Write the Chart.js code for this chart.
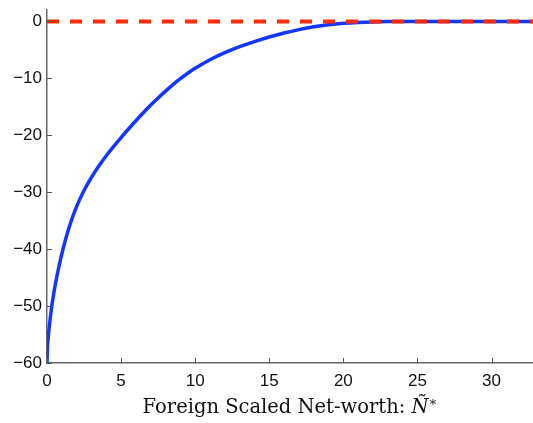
<!DOCTYPE html>
<html lang="en">
<head>
   <meta charset="UTF-8">
   <title>Foreign Scaled Net-worth</title>
   <script src="https://cdn.jsdelivr.net/npm/chart.js@4.4.0/dist/chart.umd.min.js"></script>
   <style>
      body { margin: 0; background: #fff; }
      .wrap { position: relative; width: 533px; height: 423px; }
      .xlabel {
         position: absolute; left: 47px; width: 486px; top: 396px;
         text-align: center; font-family: "DejaVu Serif", "Liberation Serif", serif;
         font-size: 19.5px; line-height: 22px; color: #111;
      }
      .xlabel sup { font-size: 13px; vertical-align: 7px; line-height: 0; }
   </style>
</head>
<body>
   <div class="wrap">
      <canvas id="myChart"></canvas>
      <div class="xlabel">Foreign Scaled Net-worth: <i>Ñ</i><sup>∗</sup></div>
   </div>
   <script>
      // curve
      var netWorth = [0, 0.03, 0.1, 0.2, 0.35, 0.55, 0.8, 1.1, 1.5, 2.0, 2.5, 3.0, 3.5, 4.0, 4.5, 5.0, 5.5, 6.0, 6.5, 7.0, 7.5, 8.0, 8.5, 9.0, 9.5, 10, 11, 12, 13, 14, 15, 16, 17, 18, 19, 20, 21, 22, 23, 25, 33];
      var value    = [-60, -57.35, -55.05, -52.55, -49.55, -46.35, -43.1, -39.8, -36.1, -32.5, -29.7, -27.4, -25.4, -23.6, -21.95, -20.4, -18.9, -17.45, -16.05, -14.7, -13.45, -12.25, -11.1, -10.05, -9.1, -8.25, -6.75, -5.5, -4.45, -3.55, -2.75, -2.05, -1.45, -0.95, -0.58, -0.33, -0.18, -0.09, -0.04, 0, 0];
      // zero reference line
      var refX = [0, 33];
      var refY = [0, 0];
      var xTicks = [0, 5, 10, 15, 20, 25, 30];
      var yTicks = [-60, -50, -40, -30, -20, -10, 0];

      function pts(xs, ys) {
         return xs.map(function (x, i) { return { x: x, y: ys[i] }; });
      }

      //안쪽 눈금 그리기
      var innerTicks = {
         id: 'innerTicks',
         afterDraw: function (chart) {
            var ctx = chart.ctx, a = chart.chartArea;
            var sx = chart.scales.x, sy = chart.scales.y;
            ctx.save();
            ctx.strokeStyle = '#555';
            ctx.lineWidth = 1;
            ctx.beginPath();
            xTicks.forEach(function (v) {
               var p = Math.round(sx.getPixelForValue(v)) + 0.5;
               ctx.moveTo(p, a.bottom); ctx.lineTo(p, a.bottom - 5);
            });
            yTicks.forEach(function (v) {
               var p = Math.round(sy.getPixelForValue(v)) + 0.5;
               ctx.moveTo(a.left, p); ctx.lineTo(a.left + 5, p);
            });
            ctx.stroke();
            ctx.restore();
         }
      };

      var tickFont = { family: '"Liberation Sans", Arial, sans-serif', size: 17 };

      new Chart(document.getElementById('myChart'), {
         type: 'line',
         plugins: [innerTicks],
         data: {
            datasets: [{
               data: pts(refX, refY),
               borderColor: '#ff2a00',
               borderWidth: 4,
               borderDash: [12, 11],
               pointRadius: 0
            }, {
               data: pts(netWorth, value),
               borderColor: '#1236ff',
               borderWidth: 3.5,
               cubicInterpolationMode: 'monotone',
               pointRadius: 0
            }]
         },
         options: {
            responsive: true,
            maintainAspectRatio: false,
            animation: false,
            layout: { padding: { top: 10, right: 0, left: 0, bottom: 0 } },
            plugins: { legend: { display: false }, tooltip: { enabled: false } },
            scales: {
               x: {
                  type: 'linear',
                  min: 0,
                  max: 32.8,
                  afterFit: function (s) { s.height = 60; s.paddingRight = 0; },
                  grid: { display: false, drawTicks: false },
                  border: { display: true, color: '#666', width: 1.5 },
                  ticks: {
                     stepSize: 5,
                     includeBounds: false,
                     maxRotation: 0,
                     padding: 8,
                     color: '#111',
                     font: tickFont
                  }
               },
               y: {
                  min: -60,
                  max: 2,
                  afterFit: function (s) { s.width = 47; s.paddingTop = 0; },
                  grid: { display: false, drawTicks: false },
                  border: { display: true, color: '#666', width: 1.5 },
                  ticks: {
                     stepSize: 10,
                     includeBounds: false,
                     padding: 5,
                     color: '#111',
                     font: tickFont,
                     callback: function (v) { return v < 0 ? '\u2212' + Math.abs(v) : String(v); }
                  }
               }
            }
         }
      });
   </script>
</body>
</html>
